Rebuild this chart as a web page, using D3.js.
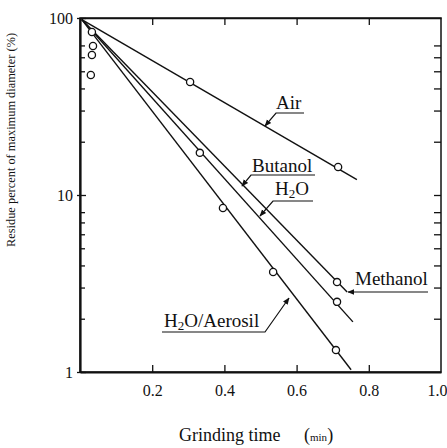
<!DOCTYPE html>
<html>
<head>
<meta charset="utf-8">
<script src="https://cdn.jsdelivr.net/npm/d3@7"></script>
<style>
  body { margin: 0; background: #fff; }
  text { font-family: 'Liberation Serif', 'DejaVu Serif', serif; fill: #111; }
</style>
</head>
<body>
<div class="chart"></div>
<script>
// data
var seriesNames = ['Air', 'Butanol / Methanol', 'H2O', 'H2O/Aerosil'];
var lineTimes = [[0.005, 0.767], [0.005, 0.740], [0.005, 0.756], [0.005, 0.751]];
var lineResidues = [[98, 12.2], [98, 2.83], [98, 1.92], [98, 1.03]];
var pointTimes = [[0.305, 0.715], [0.712], [0.332, 0.712], [0.396, 0.535, 0.709]];
var pointResidues = [[43.5, 14.4], [3.22], [17.3, 2.49], [8.45, 3.67, 1.33]];
var earlyTimes = [0.033, 0.036, 0.033, 0.030];
var earlyResidues = [83.4, 69.5, 61.8, 47.6];
var xTickValues = [0.2, 0.4, 0.6, 0.8, 1.0];
var xTickLabels = ['0.2', '0.4', '0.6', '0.8', '1.0'];
var yTickValues = [1, 10, 100];
var yTickLabels = ['1', '10', '100'];
var yMinorTicks = [2, 3, 4, 5, 6, 7, 8, 20, 30, 40, 50, 60, 70];

var svgWidth = 447;
var svgHeight = 448;

var svg = d3.select('.chart')
  .append('svg')
  .attr('width', svgWidth)
  .attr('height', svgHeight);

// scales
var x = d3.scaleLinear().domain([0, 1]).range([80, 441]);
var y = d3.scaleLog().domain([1, 100]).range([372, 18]);

// arrow marker for the labels
svg.append('defs').append('marker')
  .attr('id', 'arrow')
  .attr('viewBox', '0 0 10 10')
  .attr('refX', 9)
  .attr('refY', 5)
  .attr('markerWidth', 7)
  .attr('markerHeight', 7)
  .attr('markerUnits', 'userSpaceOnUse')
  .attr('orient', 'auto')
  .append('path')
  .attr('d', 'M0,1 L10,5 L0,9 Z')
  .attr('fill', '#111');

// frame
svg.append('rect')
  .attr('x', x(0))
  .attr('y', y(100))
  .attr('width', x(1) - x(0))
  .attr('height', y(1) - y(100))
  .attr('fill', 'none')
  .attr('stroke', '#111')
  .attr('stroke-width', 1.5);

// bottom axis with labels, ticks pointing inward
var bottomAxis = d3.axisBottom(x)
  .tickValues(xTickValues)
  .tickSizeInner(-7)
  .tickSizeOuter(0)
  .tickPadding(13)
  .tickFormat(function(d, i) { return xTickLabels[i]; });

var gx = svg.append('g')
  .attr('transform', 'translate(0,' + y(1) + ')')
  .call(bottomAxis);
gx.select('.domain').attr('stroke-width', 2.2).attr('stroke', '#111');
gx.selectAll('.tick line').attr('stroke', '#111').attr('stroke-width', 1.3)
  .filter(function(d) { return d === 1.0; }).remove();
gx.selectAll('.tick text').style('font-size', '16px').attr('font-family', null);
// keep the last label inside the page
gx.selectAll('.tick text')
  .filter(function(d) { return d === 1.0; })
  .attr('text-anchor', 'end')
  .attr('x', 6);

// top axis, ticks only
var gxTop = svg.append('g')
  .attr('transform', 'translate(0,' + y(100) + ')')
  .call(d3.axisTop(x).tickValues(xTickValues.slice(0, 4)).tickSizeInner(-7).tickSizeOuter(0).tickFormat(''));
gxTop.select('.domain').attr('stroke-width', 1.5).attr('stroke', '#111');
gxTop.selectAll('.tick line').attr('stroke', '#111').attr('stroke-width', 1.3);

// left axis, major labels
var gy = svg.append('g')
  .attr('transform', 'translate(' + x(0) + ',0)')
  .call(d3.axisLeft(y).tickValues(yTickValues).tickSizeInner(4).tickSizeOuter(0).tickPadding(3)
    .tickFormat(function(d, i) { return yTickLabels[i]; }));
gy.select('.domain').attr('stroke-width', 2.2).attr('stroke', '#111');
gy.selectAll('.tick line').attr('x2', 6).attr('x1', -3).attr('stroke', '#111').attr('stroke-width', 1.3);
gy.selectAll('.tick text').style('font-size', '16px').attr('font-family', null);

// left minor ticks
var gyMinor = svg.append('g')
  .attr('transform', 'translate(' + x(0) + ',0)')
  .call(d3.axisRight(y).tickValues(yMinorTicks).tickSizeInner(5).tickSizeOuter(0).tickFormat(''));
gyMinor.select('.domain').remove();
gyMinor.selectAll('.tick line').attr('stroke', '#111').attr('stroke-width', 1.3);

// right axis ticks
var gyRight = svg.append('g')
  .attr('transform', 'translate(' + x(1) + ',0)')
  .call(d3.axisLeft(y).tickValues(yMinorTicks.concat([10])).tickSizeInner(7).tickSizeOuter(0).tickFormat(''));
gyRight.select('.domain').remove();
gyRight.selectAll('.tick line').attr('x2', 0).attr('x1', -7).attr('stroke', '#111').attr('stroke-width', 1.3);

// data lines
var line = d3.line()
  .x(function(d) { return x(d[0]); })
  .y(function(d) { return y(d[1]); });

var seriesData = seriesNames.map(function(name, i) {
  return {
    name: name,
    line: lineTimes[i].map(function(t, j) { return [t, lineResidues[i][j]]; }),
    points: pointTimes[i].map(function(t, j) { return [t, pointResidues[i][j]]; })
  };
});

svg.append('g').selectAll('path')
  .data(seriesData)
  .enter()
  .append('path')
  .attr('d', function(d) { return line(d.line); })
  .attr('fill', 'none')
  .attr('stroke', '#111')
  .attr('stroke-width', 1.4);

// open circle markers
var allPoints = [];
seriesData.forEach(function(s) { allPoints = allPoints.concat(s.points); });
earlyTimes.forEach(function(t, i) { allPoints.push([t, earlyResidues[i]]); });

svg.append('g').selectAll('circle')
  .data(allPoints)
  .enter()
  .append('circle')
  .attr('cx', function(d) { return x(d[0]); })
  .attr('cy', function(d) { return y(d[1]); })
  .attr('r', 3.6)
  .attr('fill', '#fff')
  .attr('stroke', '#111')
  .attr('stroke-width', 1.3);

// labels with leader lines
var notes = svg.append('g').style('font-size', '19px');

function leader(d) {
  notes.append('path')
    .attr('d', d)
    .attr('fill', 'none')
    .attr('stroke', '#111')
    .attr('stroke-width', 1.2)
    .attr('marker-end', 'url(#arrow)');
}

notes.append('text').attr('x', 276).attr('y', 109).text('Air');
leader('M304,113 L276,113 L265,126');

notes.append('text').attr('x', 252).attr('y', 172).text('Butanol');
leader('M315,175 L251,175 L242,186');

var h2o = notes.append('text').attr('x', 275).attr('y', 195);
h2o.append('tspan').text('H');
h2o.append('tspan').attr('dy', 3).style('font-size', '13px').text('2');
h2o.append('tspan').attr('dy', -3).text('O');
leader('M313,201 L273,201 L260,216');

notes.append('text').attr('x', 355).attr('y', 285).text('Methanol');
leader('M428,292 L348,292');

var aero = notes.append('text').attr('x', 164).attr('y', 327);
aero.append('tspan').text('H');
aero.append('tspan').attr('dy', 3).style('font-size', '13px').text('2');
aero.append('tspan').attr('dy', -3).text('O/Aerosil');
leader('M162,332 L265,332 L289,298');

// x-axis title
var xTitle = svg.append('text')
  .attr('x', 179)
  .attr('y', 441)
  .style('font-size', '18px');
xTitle.append('tspan').text('Grinding time');
xTitle.append('tspan').attr('x', 304).text('(');
xTitle.append('tspan').style('font-size', '11px').text('min');
xTitle.append('tspan').text(')');

// y-axis title
svg.append('text')
  .attr('transform', 'translate(15,140) rotate(-90)')
  .attr('text-anchor', 'middle')
  .attr('textLength', 214)
  .attr('lengthAdjust', 'spacingAndGlyphs')
  .style('font-size', '12px')
  .text('Residue percent of maximum diameter (%)');
</script>
</body>
</html>
